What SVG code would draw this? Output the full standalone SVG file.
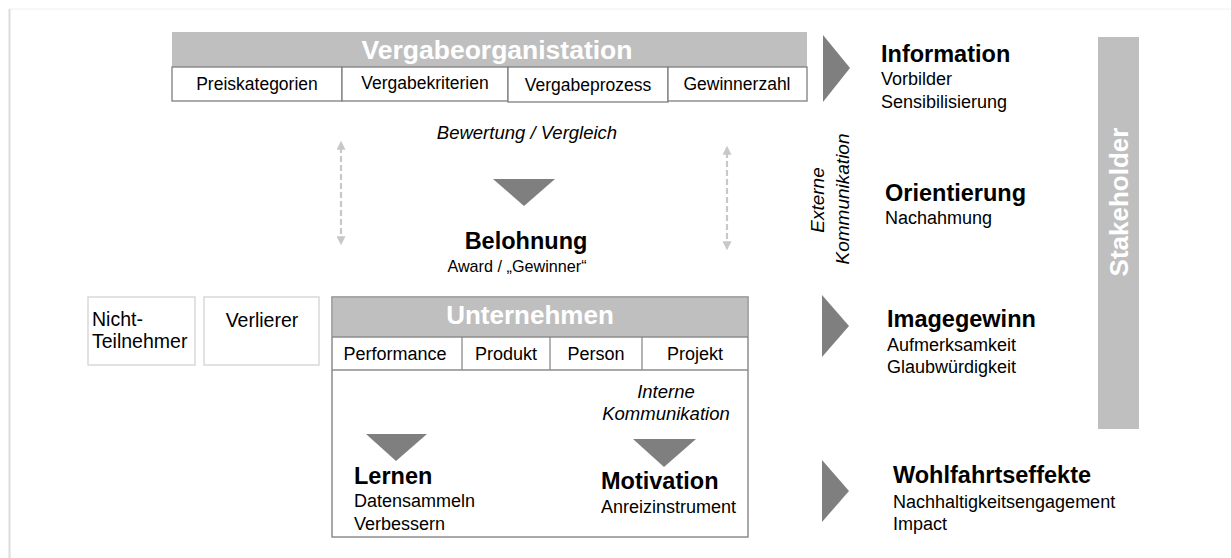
<svg xmlns="http://www.w3.org/2000/svg" width="1231" height="558" viewBox="0 0 1231 558">
<defs>
<style>
text{font-family:"Liberation Sans",Arial,sans-serif;fill:#000}
.hdr{fill:#bfbfbf}
.hdrt{font-weight:bold;font-size:26.5px;fill:#fff}
.cell{fill:#fff;stroke:#7f7f7f;stroke-width:1.3}
.ct{font-size:17.5px}
.ct2{font-size:18px}
.tri{fill:#7f7f7f}
.title{font-weight:bold;font-size:23.5px}
.sub{font-size:18px}
.it{font-style:italic;font-size:18.5px}
.lbox{fill:#fff;stroke:#d9d9d9;stroke-width:1.5}
.dash{stroke:#c8c8c8;stroke-width:2.2;stroke-dasharray:6,3;fill:none}
</style>
<marker id="ah" viewBox="0 0 10 10" refX="3" refY="5" markerWidth="9" markerHeight="9" orient="auto-start-reverse" markerUnits="userSpaceOnUse">
<path d="M0,0 L10,5 L0,10 z" fill="#c8c8c8"/>
</marker>
</defs>
<rect x="0" y="0" width="1231" height="558" fill="#fff"/>
<line x1="9" y1="9" x2="1231" y2="9" stroke="#f0f0f0" stroke-width="1"/>
<line x1="9.5" y1="9" x2="9.5" y2="558" stroke="#dcdcdc" stroke-width="2"/>

<g id="vergabeorganisation">
<rect class="hdr" x="172" y="32" width="635" height="35"/>
<text class="hdrt" x="497" y="59" text-anchor="middle">Vergabeorganistation</text>
<rect class="cell" x="172" y="67" width="170" height="34"/>
<text class="ct" x="257" y="90" text-anchor="middle">Preiskategorien</text>
<rect class="cell" x="342" y="67" width="166" height="34"/>
<text class="ct" x="425" y="89" text-anchor="middle">Vergabekriterien</text>
<rect class="cell" x="508" y="67" width="160" height="35"/>
<text class="ct" x="588" y="91" text-anchor="middle">Vergabeprozess</text>
<rect class="cell" x="668" y="67" width="139" height="34"/>
<text class="ct" x="737" y="90" text-anchor="middle">Gewinnerzahl</text>
</g>

<g id="bewertung">
<text class="it" x="527" y="139" text-anchor="middle">Bewertung / Vergleich</text>
<polygon class="tri" points="493,179 555,179 524,206"/>
</g>

<g id="belohnung">
<text class="title" x="526" y="249" text-anchor="middle">Belohnung</text>
<text class="sub" x="517" y="272" text-anchor="middle" style="font-size:16.2px">Award / „Gewinner“</text>
</g>

<g id="connectors">
<line class="dash" x1="341" y1="147" x2="341" y2="239" marker-start="url(#ah)" marker-end="url(#ah)"/>
<line class="dash" x1="727" y1="152" x2="727" y2="244" marker-start="url(#ah)" marker-end="url(#ah)"/>
<polygon class="tri" points="823,35 850,68 823,102"/>
<polygon class="tri" points="822,295 849,326 822,357"/>
<polygon class="tri" points="822,460 849,491 822,522"/>
</g>

<g id="nicht-teilnehmer">
<rect class="lbox" x="88" y="297" width="107" height="68"/>
<text x="92" y="326" style="font-size:19.5px">Nicht-</text>
<text x="92" y="348" style="font-size:19.5px">Teilnehmer</text>
</g>

<g id="verlierer">
<rect class="lbox" x="204" y="297" width="115" height="68"/>
<text x="262" y="327" text-anchor="middle" style="font-size:19.5px">Verlierer</text>
</g>

<g id="unternehmen">
<rect x="332" y="297" width="416" height="240" fill="#fff" stroke="#8c8c8c" stroke-width="1.5"/>
<rect class="hdr" x="333" y="298" width="414" height="39"/>
<text class="hdrt" x="530" y="324" text-anchor="middle" style="font-size:26px">Unternehmen</text>
<line x1="332" y1="337" x2="748" y2="337" stroke="#8c8c8c" stroke-width="1.3"/>
<line x1="332" y1="370" x2="748" y2="370" stroke="#8c8c8c" stroke-width="1.3"/>
<line x1="462" y1="337" x2="462" y2="370" stroke="#8c8c8c" stroke-width="1.3"/>
<line x1="550" y1="337" x2="550" y2="370" stroke="#8c8c8c" stroke-width="1.3"/>
<line x1="642" y1="337" x2="642" y2="370" stroke="#8c8c8c" stroke-width="1.3"/>
<text class="ct2" x="395" y="360" text-anchor="middle">Performance</text>
<text class="ct2" x="506" y="360" text-anchor="middle">Produkt</text>
<text class="ct2" x="596" y="360" text-anchor="middle">Person</text>
<text class="ct2" x="695" y="360" text-anchor="middle">Projekt</text>
<text class="it" x="666" y="398" text-anchor="middle">Interne</text>
<text class="it" x="666" y="420" text-anchor="middle">Kommunikation</text>
<polygon class="tri" points="366,434 427,434 396,461"/>
<polygon class="tri" points="633,439 696,439 664,467"/>
</g>

<g id="lernen">
<text class="title" x="354" y="484">Lernen</text>
<text class="sub" x="354" y="507">Datensammeln</text>
<text class="sub" x="354" y="530">Verbessern</text>
</g>

<g id="motivation">
<text class="title" x="601" y="489">Motivation</text>
<text class="sub" x="601" y="513">Anreizinstrument</text>
</g>

<g id="externe-kommunikation">
<text class="it" transform="translate(824,200) rotate(-90)" text-anchor="middle" style="font-size:19px">Externe</text>
<text class="it" transform="translate(849,199) rotate(-90)" text-anchor="middle" style="font-size:19px">Kommunikation</text>
</g>

<g id="information">
<text class="title" x="881" y="62">Information</text>
<text class="sub" x="881" y="85">Vorbilder</text>
<text class="sub" x="881" y="108">Sensibilisierung</text>
</g>

<g id="orientierung">
<text class="title" x="885" y="201">Orientierung</text>
<text class="sub" x="885" y="224">Nachahmung</text>
</g>

<g id="imagegewinn">
<text class="title" x="887" y="327">Imagegewinn</text>
<text class="sub" x="887" y="351">Aufmerksamkeit</text>
<text class="sub" x="887" y="373">Glaubwürdigkeit</text>
</g>

<g id="wohlfahrtseffekte">
<text class="title" x="893" y="483">Wohlfahrtseffekte</text>
<text class="sub" x="893" y="508">Nachhaltigkeitsengagement</text>
<text class="sub" x="893" y="530">Impact</text>
</g>

<g id="stakeholder">
<rect class="hdr" x="1098" y="37" width="41" height="392"/>
<text class="hdrt" transform="translate(1128,202) rotate(-90)" text-anchor="middle" style="font-size:26px">Stakeholder</text>
</g>
</svg>
